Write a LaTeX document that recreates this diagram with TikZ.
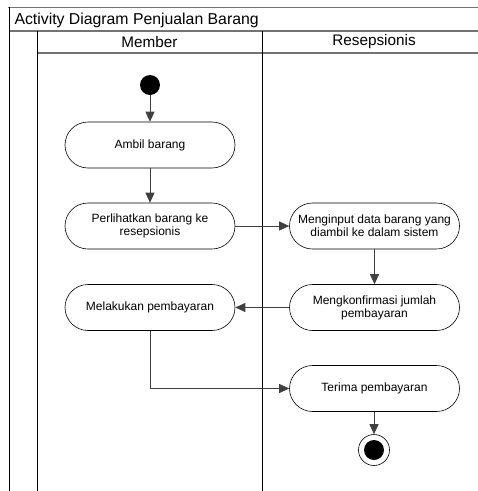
\documentclass[tikz,border=0pt]{standalone}
\usepackage{fontspec}
\setmainfont{Liberation Sans}
\usetikzlibrary{arrows.meta}
\begin{document}
\begin{tikzpicture}[x=1pt,y=-1pt,
  frameh/.style={draw=black!55,line width=1.1pt},
  framev/.style={draw=black,line width=1pt},
  act/.style={draw=black,line width=0.6pt,rounded corners=23pt,
    minimum width=170pt,minimum height=46pt,inner sep=0pt,align=center,
    font=\fontsize{12}{13}\selectfont},
  lanehead/.style={font=\fontsize{15.3}{17}\selectfont},
  flow/.style={draw=black!75,line width=0.8pt,-{Triangle[length=10pt,width=9pt]}}]
\useasboundingbox (0,0) rectangle (478,491);
% frame, title bar and swimlanes
\draw[frameh] (8,7.5) -- (478,7.5);
\draw[frameh] (9,31) -- (478,31);
\draw[frameh] (37,53) -- (478,53);
\draw[framev] (9,7) -- (9,491);
\draw[framev] (37,31) -- (37,491);
\draw[framev] (262,31) -- (262,491);
\node[anchor=west,font=\fontsize{15.8}{17}\selectfont] (title) at (11,20) {Activity Diagram Penjualan Barang};
\node[lanehead] (member) at (149.5,42) {Member};
\node[lanehead] (resep) at (374,42) {Resepsionis};
% initial and final states
\node[circle,fill=black,minimum size=20pt,inner sep=0pt] (start) at (150,85) {};
\node[circle,draw=black,line width=0.6pt,minimum size=31pt,inner sep=0pt] (end) at (374,450) {};
\fill[black] (end.center) circle (10pt);
% activities
\node[act] (ambil) at (150,145) {Ambil barang};
\node[act] (lihat) at (150,226) {Perlihatkan barang ke\\resepsionis};
\node[act] (input) at (374.5,226) {Menginput data barang yang\\diambil ke dalam sistem};
\node[act] (konfirm) at (374.5,307.5) {Mengkonfirmasi jumlah\\pembayaran};
\node[act] (bayar) at (150,307.5) {Melakukan pembayaran};
\node[act] (terima) at (374.5,388.5) {Terima pembayaran};
% control flow
\draw[flow] (start) -- (ambil);
\draw[flow] (ambil) -- (lihat);
\draw[flow] (lihat) -- (input);
\draw[flow] (input) -- (konfirm);
\draw[flow] (konfirm) -- (bayar);
\draw[flow] (bayar) |- (terima);
\draw[flow] (terima.south -| end) -- (end);
\end{tikzpicture}
\end{document}
